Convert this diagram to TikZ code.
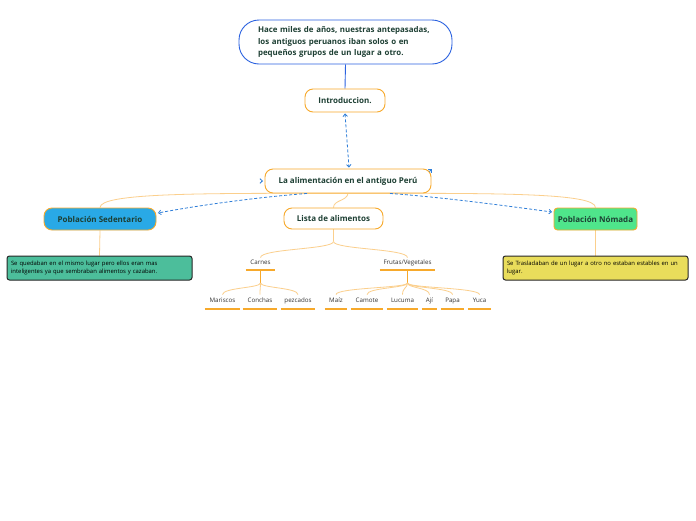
\documentclass[tikz,border=0pt]{standalone}
\usepackage{fontspec}
\setmainfont{Open Sans}
\usetikzlibrary{arrows.meta,calc,backgrounds}
\definecolor{txt}{HTML}{1D3F33}
\definecolor{orng}{HTML}{F7A92B}
\definecolor{lorng}{HTML}{FBCF8C}
\definecolor{blu}{HTML}{2B62E0}
\definecolor{dblu}{HTML}{2F7ED8}
\definecolor{sedfill}{HTML}{29A9E6}
\definecolor{nomfill}{HTML}{4FE58B}
\definecolor{tealfill}{HTML}{4CBE9B}
\definecolor{yelfill}{HTML}{E9DD5B}
\definecolor{leaftxt}{HTML}{333333}
\begin{document}
\begin{tikzpicture}[x=1pt,y=-1pt,
  box/.style={draw=orng, line width=0.9pt, rounded corners=8pt, fill=white, inner sep=0pt,
    font=\fontsize{8}{9}\selectfont\bfseries, text=txt},
  desc/.style={draw=black!85, line width=1pt, rounded corners=2.5pt, inner sep=0pt,
    minimum width=185pt, minimum height=24pt, text width=177pt, align=left,
    font=\fontsize{5.9}{8}\selectfont, text=black},
  leaf/.style={inner xsep=0pt, inner ysep=4pt, text height=4pt, text depth=2pt, anchor=south,
    font=\fontsize{6.2}{7}\selectfont, text=leaftxt},
  uline/.style={draw=orng, line width=1.3pt},
  conn/.style={draw=lorng, line width=0.8pt},
  rel/.style={draw=dblu, line width=0.8pt, dash pattern=on 3pt off 2pt},
  tip/.style={-{Straight Barb[length=2.5pt,width=4.5pt]}}
]
\useasboundingbox (0,0) rectangle (696,520);

% main nodes
\node[box, draw=blu, rounded corners=20pt, minimum width=213pt, minimum height=44pt,
  text width=175pt, align=left, font=\fontsize{7.9}{11.5}\selectfont\bfseries]
  (top) at (345.5,42) {Hace miles de años, nuestras antepasadas,\\los antiguos peruanos iban solos o en\\pequeños grupos de un lugar a otro.};
\node[box, minimum width=80pt, minimum height=23pt] (intro) at (345,100.5) {Introduccion.};
\node[box, minimum width=166pt, minimum height=24pt] (alim) at (348,181) {La alimentación en el antiguo Perú};
\node[box, fill=sedfill, minimum width=112pt, minimum height=22pt] (sed) at (100,219) {Población Sedentario};
\node[box, fill=nomfill, rounded corners=3.5pt, minimum width=83pt, minimum height=22pt] (nom) at (595.5,219) {Población Nómada};
\node[box, minimum width=99pt, minimum height=21pt] (lista) at (333.5,218.5) {Lista de alimentos};

\node[desc, fill=tealfill] (dsed) at (99.5,268) {Se quedaban en el mismo lugar pero ellos eran mas\\inteligentes ya que sembraban alimentos y cazaban.};
\node[desc, fill=yelfill] (dnom) at (595.5,268) {Se Trasladaban de un lugar a otro no estaban estables en un\\lugar.};

% categories
\node[leaf, inner ysep=3pt, minimum width=29pt] (carnes) at (260.5,270) {Carnes};
\node[leaf, inner ysep=3pt, minimum width=55pt] (frutas) at (407.5,270) {Frutas/Vegetales};

% leaves
\node[leaf, minimum width=35pt] (mar) at (222.5,309) {Mariscos};
\node[leaf, minimum width=34pt] (con) at (260,309) {Conchas};
\node[leaf, minimum width=34pt] (pez) at (298,309) {pezcados};
\node[leaf, minimum width=22pt] (mai) at (336,309) {Maíz};
\node[leaf, minimum width=32pt] (cam) at (367,309) {Camote};
\node[leaf, minimum width=31pt] (luc) at (402.5,309) {Lucuma};
\node[leaf, minimum width=15pt] (aji) at (429.5,309) {Ají};
\node[leaf, minimum width=23pt] (pap) at (452.5,309) {Papa};
\node[leaf, minimum width=23pt] (yuc) at (479.5,309) {Yuca};

\foreach \n in {carnes,frutas}{
  \draw[uline, line width=1.6pt] (\n.south west) -- (\n.south east);
}
\foreach \n in {mar,con,pez,mai,cam,luc,aji,pap,yuc}{
  \draw[uline] (\n.south west) -- (\n.south east);
}

\begin{scope}[on background layer]
\fill[white] (0,0) rectangle (696,520);
% tree connectors
\draw[blu, line width=0.9pt] (top.south) -- (intro.north);
\draw[conn] (alim.south) .. controls (200,193) and (100,193) .. (sed.north);
\draw[conn] (alim.south) .. controls (500,193) and (595.5,193) .. (nom.north);
\draw[conn] (alim.south) .. controls (347,201) and (333.5,200) .. (lista.north);
\draw[conn] (sed.south) -- (dsed.north);
\draw[conn] (nom.south) -- (dnom.north);
\draw[conn] (lista.south) -- ++(0,12) coordinate (ls);
\draw[conn] (ls) .. controls ($(ls)+(0,8)$) and ($(carnes.north)+(0,-9)$) .. (carnes.north);
\draw[conn] (ls) .. controls ($(ls)+(0,8)$) and ($(frutas.north)+(0,-9)$) .. (frutas.north);
\draw[orng, line width=1.3pt] (carnes.south) -- ++(0,13) coordinate (cs);
\draw[orng, line width=1.3pt] (frutas.south) -- ++(0,13) coordinate (fs);
\foreach \n in {mar,con,pez}{
  \draw[conn] (cs) .. controls ($(cs)+(0,5)$) and ($(\n.north)+(0,-7)$) .. (\n.north);
}
\foreach \n in {mai,cam,luc,aji,pap,yuc}{
  \draw[conn] (fs) .. controls ($(fs)+(0,5)$) and ($(\n.north)+(0,-7)$) .. (\n.north);
}
\end{scope}

% relationships (dashed blue)
\draw[rel, {Straight Barb[length=2.5pt,width=4.5pt]}-{Straight Barb[length=2.5pt,width=4.5pt]}]
  ($(intro.south)+(0,1)$) -- ($(alim.north)+(1,-1)$);
\draw[rel, tip] ($(alim.south)+(-41,0)$) .. controls (260,197) and (200,205) .. ($(sed.east)+(1.5,-6)$);
\draw[rel, tip] ($(alim.south)+(42,0)$) .. controls (440,197) and (500,205) .. ($(nom.west)+(-1.5,-7)$);
\draw[dblu, line width=0.8pt, tip] ($(alim.west)+(-4,0)$) -- ($(alim.west)+(-1.5,0)$);
\draw[dblu, line width=0.8pt, tip] ($(alim.north east)+(-2,3)$) -- ($(alim.north east)+(0.5,0.5)$);
\end{tikzpicture}
\end{document}
